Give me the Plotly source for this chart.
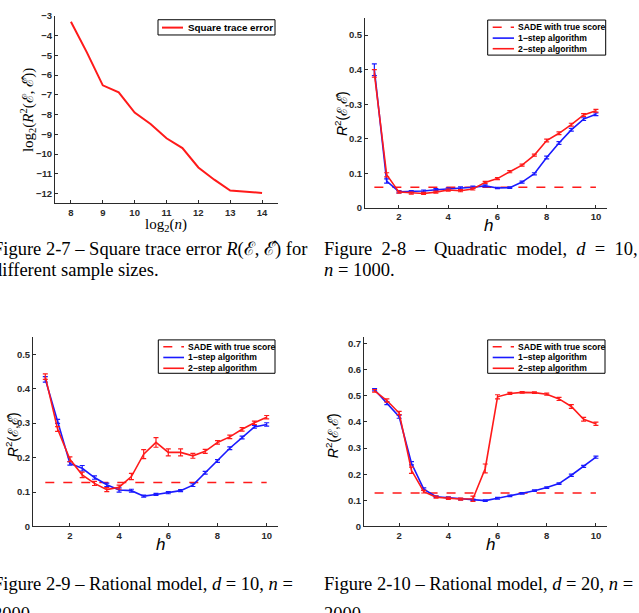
import plotly.graph_objects as go

W, H = 639, 613

# ---------------- data ----------------
log2_n = [8, 8.5, 9, 9.5, 10, 10.5, 11, 11.5, 12, 12.5, 13, 14]
log2_err = [-3.3, -4.85, -6.52, -6.88, -7.9, -8.48, -9.2, -9.7, -10.68, -11.3, -11.85, -11.97]

h_vals = [1, 1.5, 2, 2.5, 3, 3.5, 4, 4.5, 5, 5.5, 6, 6.5, 7, 7.5, 8, 8.5, 9, 9.5, 10]

# Figure 2-8 (quadratic, d=10, n=1000)
q_one = [0.400, 0.078, 0.047, 0.047, 0.049, 0.053, 0.055, 0.058, 0.060, 0.064,
         0.058, 0.059, 0.075, 0.099, 0.146, 0.188, 0.226, 0.257, 0.271]
q_one_err = [0.017, 0.006, 0.003, 0.003, 0.003, 0.003, 0.003, 0.003, 0.003, 0.003,
             0.002, 0.002, 0.003, 0.003, 0.004, 0.004, 0.004, 0.004, 0.004]
q_two = [0.389, 0.096, 0.046, 0.043, 0.042, 0.046, 0.052, 0.050, 0.055, 0.074,
         0.085, 0.105, 0.124, 0.153, 0.195, 0.216, 0.241, 0.269, 0.281]
q_two_err = [0.011, 0.006, 0.003, 0.003, 0.003, 0.003, 0.003, 0.003, 0.003, 0.003,
             0.003, 0.003, 0.003, 0.003, 0.004, 0.004, 0.004, 0.004, 0.004]
q_sade = 0.06

# Figure 2-9 (rational, d=10, n=2000)
r10_one = [0.427, 0.305, 0.183, 0.169, 0.142, 0.121, 0.106, 0.104, 0.088, 0.093,
           0.098, 0.104, 0.120, 0.156, 0.190, 0.227, 0.258, 0.289, 0.296]
r10_one_err = [0.008, 0.006, 0.005, 0.008, 0.005, 0.005, 0.006, 0.004, 0.003, 0.003,
               0.003, 0.003, 0.004, 0.004, 0.004, 0.004, 0.004, 0.004, 0.005]
r10_two = [0.435, 0.283, 0.195, 0.150, 0.125, 0.107, 0.114, 0.145, 0.210, 0.244,
           0.215, 0.215, 0.205, 0.218, 0.244, 0.260, 0.282, 0.301, 0.317]
r10_two_err = [0.008, 0.007, 0.007, 0.008, 0.006, 0.006, 0.006, 0.009, 0.013, 0.014,
               0.010, 0.010, 0.007, 0.006, 0.005, 0.005, 0.005, 0.005, 0.005]
r10_sade = 0.128

# Figure 2-10 (rational, d=20, n=2000)
r20_one = [0.523, 0.472, 0.420, 0.242, 0.143, 0.114, 0.110, 0.105, 0.102, 0.099,
           0.108, 0.117, 0.127, 0.137, 0.149, 0.164, 0.196, 0.230, 0.265]
r20_one_err = [0.004, 0.006, 0.006, 0.006, 0.005, 0.003, 0.003, 0.003, 0.003, 0.003,
               0.003, 0.003, 0.003, 0.003, 0.003, 0.003, 0.004, 0.004, 0.004]
r20_two = [0.519, 0.482, 0.434, 0.215, 0.133, 0.112, 0.108, 0.105, 0.106, 0.222,
           0.496, 0.509, 0.513, 0.512, 0.506, 0.488, 0.459, 0.410, 0.393]
r20_two_err = [0.005, 0.006, 0.006, 0.012, 0.005, 0.004, 0.004, 0.004, 0.010, 0.017,
               0.008, 0.004, 0.003, 0.003, 0.004, 0.006, 0.007, 0.007, 0.006]
r20_sade = 0.128

legend_labels = ["SADE with true score", "1\u2212step algorithm", "2\u2212step algorithm"]

# ---------------- helpers ----------------
def px(x):
    return x / W

def py(y):
    return 1 - y / H

RED = "#ff1a1a"
BLUE = "#1a1aff"
AX = "#2a2a2a"
SANS = "Liberation Sans"
SERIF = "Liberation Serif"

fig = go.Figure()

panels = [
    ((55, 278, 10, 201), [7.5, 14.5], [-12.5, -3], list(range(8, 15)), list(range(-12, -2))),
    ((365, 607, 12, 205.7), [0.62, 10.45], [0, 0.55], [2, 4, 6, 8, 10], [0, 0.1, 0.2, 0.3, 0.4, 0.5]),
    ((33, 278, 337, 530), [0.5, 10.46], [0, 0.55], [2, 4, 6, 8, 10], [0, 0.1, 0.2, 0.3, 0.4, 0.5]),
    ((364, 607, 337, 530), [0.57, 10.45], [0, 0.725], [2, 4, 6, 8, 10], [0, 0.1, 0.2, 0.3, 0.4, 0.5, 0.6, 0.7]),
]

layout = dict(
    width=W, height=H, margin=dict(l=0, r=0, t=0, b=0),
    paper_bgcolor="white", plot_bgcolor="white", showlegend=False,
)
tickfont = dict(family=SANS, size=9.5, color=AX, weight="bold")
for i, ((x0, x1, y0, y1), xr, yr, xt, yt) in enumerate(panels):
    sfx = "" if i == 0 else str(i + 1)
    layout["xaxis" + sfx] = dict(
        domain=[px(x0), px(x1)], range=xr, anchor="y" + sfx, tickvals=xt,
        ticks="inside", ticklen=3, tickcolor=AX, showline=True, linecolor=AX,
        linewidth=1, showgrid=False, zeroline=False, tickfont=tickfont, mirror=False,
    )
    layout["yaxis" + sfx] = dict(
        domain=[py(y1), py(y0)], range=yr, anchor="x" + sfx, tickvals=yt,
        ticks="inside", ticklen=3, tickcolor=AX, showline=True, linecolor=AX,
        linewidth=1, showgrid=False, zeroline=False, tickfont=tickfont, mirror=False,
    )
fig.update_layout(**layout)

fig.add_trace(go.Scatter(x=log2_n, y=log2_err, mode="lines",
                         line=dict(color=RED, width=2), xaxis="x", yaxis="y",
                         name="Square trace error"))

def add_panel(k, one, one_err, two, two_err, sade):
    xa, ya = "x" + str(k), "y" + str(k)
    fig.add_trace(go.Scatter(x=[h_vals[0], h_vals[-1]], y=[sade, sade], mode="lines",
                             line=dict(color=RED, width=1.5, dash="dash"),
                             xaxis=xa, yaxis=ya, name=legend_labels[0]))
    fig.add_trace(go.Scatter(x=h_vals, y=one, mode="lines",
                             line=dict(color=BLUE, width=1.6),
                             error_y=dict(type="data", array=one_err, color=BLUE,
                                          thickness=1.2, width=2.5),
                             xaxis=xa, yaxis=ya, name=legend_labels[1]))
    fig.add_trace(go.Scatter(x=h_vals, y=two, mode="lines",
                             line=dict(color=RED, width=1.6),
                             error_y=dict(type="data", array=two_err, color=RED,
                                          thickness=1.2, width=2.5),
                             xaxis=xa, yaxis=ya, name=legend_labels[2]))

add_panel(2, q_one, q_one_err, q_two, q_two_err, q_sade)
add_panel(3, r10_one, r10_one_err, r10_two, r10_two_err, r10_sade)
add_panel(4, r20_one, r20_one_err, r20_two, r20_two_err, r20_sade)

shapes = []
annots = []

def text(x, y, s, size, family=SANS, angle=0, xanchor="center", weight="normal", color="black"):
    annots.append(dict(x=px(x), y=py(y), xref="paper", yref="paper", text=s,
                       showarrow=False, xanchor=xanchor, yanchor="middle",
                       textangle=angle,
                       font=dict(family=family, size=size, color=color, weight=weight)))

def box(x0, y0, x1, y1):
    shapes.append(dict(type="rect", xref="paper", yref="paper",
                       x0=px(x0), x1=px(x1), y0=py(y1), y1=py(y0),
                       line=dict(color="black", width=1), fillcolor="white", layer="above"))

def sample(x0, x1, y, color, dash="solid", width=1.6):
    shapes.append(dict(type="line", xref="paper", yref="paper",
                       x0=px(x0), x1=px(x1), y0=py(y), y1=py(y),
                       line=dict(color=color, width=width, dash=dash), layer="above"))

box(158, 14, 275, 29.5)
sample(162, 183, 22, RED, width=2)
text(186, 22, "Square trace error", 9.8, xanchor="left", weight="bold")

def legend3(bx0, by0, bx1, by1, lx0, lx1, tx, rows):
    box(bx0, by0, bx1, by1)
    styles = [(RED, "dash"), (BLUE, "solid"), (RED, "solid")]
    for (c, d), yy, lab in zip(styles, rows, legend_labels):
        sample(lx0, lx1, yy, c, dash=d)
        text(tx, yy, lab, 8.6, xanchor="left", weight="bold")

legend3(487.7, 14.3, 605.7, 50, 492.7, 514, 516, [21.7, 32.7, 43.5])
legend3(158.3, 340, 275, 374, 163.3, 184, 186, [346.9, 357.9, 368.9])
legend3(487.7, 340, 605, 374, 492.7, 514, 516, [346.9, 357.9, 368.9])

E_HAT = "\u2130\u0302"
E = "\u2130"
text(28, 106, "log<sub>2</sub>(<i>R</i><sup>2</sup>(" + E + ", " + E_HAT + "))", 15,
     family=SERIF, angle=-90)
text(166, 223, "log<sub>2</sub>(<i>n</i>)", 15, family=SERIF)
ytitle = "<i>R</i><sup>2</sup>(" + E + "," + E_HAT + ")"
text(341, 110, ytitle, 14, angle=-90)
text(488, 224, "<i>h</i>", 17)
text(12, 437, ytitle, 14, angle=-90)
text(161, 548, "<i>h</i>", 17)
text(332, 437, ytitle, 14, angle=-90)
text(490, 548, "<i>h</i>", 17)

CAP = 18.5
NB = " \u00a0"
text(-9, 248, "Figure 2-7 \u2013 Square trace error <i>R</i>(" + E + ", " + E_HAT + ") for", CAP,
     family=SERIF, xanchor="left")
text(-9, 269, "different sample sizes.", CAP, family=SERIF, xanchor="left")
text(322, 247, NB.join(["Figure", "2-8", "\u2013", "Quadratic", "model,", "<i>d</i>", "=", "10,"]),
     CAP, family=SERIF, xanchor="left")
text(322, 269, "<i>n</i> = 1000.", CAP, family=SERIF, xanchor="left")
text(-9, 589, "Figure 2-9 \u2013 Rational model, <i>d</i> = 10, <i>n</i> =", CAP, family=SERIF, xanchor="left")
text(-9, 619, "2000", CAP, family=SERIF, xanchor="left")
text(322, 589, "Figure 2-10 \u2013 Rational model, <i>d</i> = 20, <i>n</i> =", CAP, family=SERIF, xanchor="left")
text(322, 619, "2000", CAP, family=SERIF, xanchor="left")

fig.update_layout(shapes=shapes, annotations=annots)
fig.write_html("out.html")
